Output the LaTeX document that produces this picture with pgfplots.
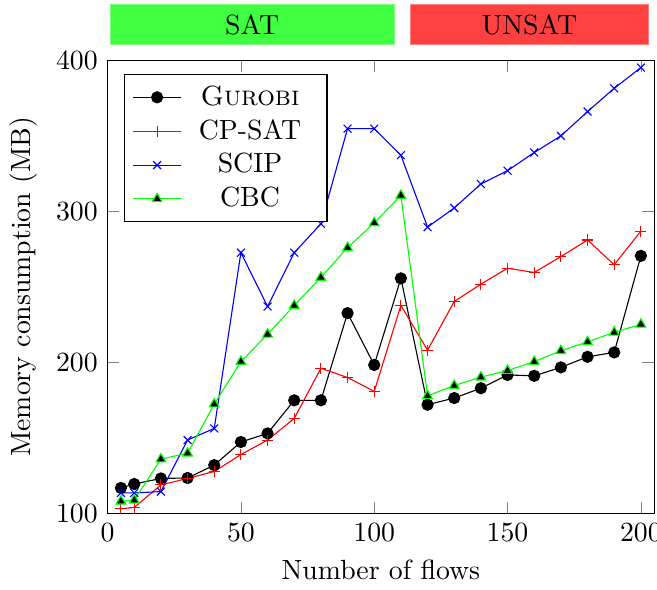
\documentclass[border=0pt]{standalone}
\usepackage{pgfplots}
\pgfplotsset{compat=1.18}
\usetikzlibrary{calc}
\begin{document}
\begin{tikzpicture}
\begin{axis}[
  scale only axis,
  width=196.8pt, height=163.2pt,
  xmin=0, xmax=205, ymin=100, ymax=400,
  xtick={0,50,100,150,200},
  ytick={100,200,300,400},
  xlabel={Number of flows},
  ylabel={Memory consumption (MB)},
  legend pos=north west,
  legend cell align=center,
  legend style={row sep=-0.4pt, nodes={inner xsep=6.3pt}},
  clip=false,
]
\addplot[color=black, mark=*, mark options={black}] coordinates {(5,116.9)(10,119.5)(20,123.2)(30,123.5)(40,132)(50,147.3)(60,153)(70,174.9)(80,174.9)(90,232.6)(100,198.3)(110,255.6)(120,172)(130,176.4)(140,182.9)(150,191.7)(160,191.1)(170,196.7)(180,203.7)(190,206.6)(200,270.5)};
\addlegendentry{\textsc{Gurobi}}
\addplot[color=red, mark=+, mark options={red}] coordinates {(5,103.1)(10,104)(20,118.9)(30,123.2)(40,127.8)(50,139)(60,148.6)(70,162.9)(80,196.1)(90,190)(100,180.8)(110,237.7)(120,208.1)(130,240.3)(140,251.8)(150,262.3)(160,259.5)(170,270)(180,281)(190,264.6)(200,286.9)};
\addlegendentry{CP-SAT}
\addplot[color=blue, mark=x, mark options={blue}] coordinates {(5,113.6)(10,113.6)(20,114.5)(30,148.6)(40,156.3)(50,272.6)(60,237)(70,272.6)(80,291.7)(90,354.7)(100,354.7)(110,337.1)(120,289.5)(130,302.2)(140,318.1)(150,326.9)(160,338.9)(170,349.9)(180,366)(190,381.4)(200,395.1)};
\addlegendentry{SCIP}
\addplot[color=green, mark=triangle*, mark options={draw=green, fill=black}] coordinates {(5,108.1)(10,108.8)(20,136)(30,139.9)(40,172.4)(50,200.5)(60,218.6)(70,237.7)(80,256.2)(90,275.9)(100,292.3)(110,310.5)(120,177.9)(130,184.7)(140,190.2)(150,194.6)(160,200.5)(170,207.7)(180,213.6)(190,219.9)(200,225.2)};
\addlegendentry{CBC}
\fill[green!75!white, draw=green!50!white, line width=0.3pt] (axis cs:1,410.4) rectangle (axis cs:107.5,436.9);
\node at (axis cs:54.25,423.65) {SAT};
\fill[red!75!white, draw=red!50!white, line width=0.3pt] (axis cs:113.4,410.4) rectangle (axis cs:203,436.9);
\node at (axis cs:158.2,423.65) {UNSAT};
\coordinate (tl) at (axis cs:1,436.9);
\end{axis}
\pgfresetboundingbox
\path (current axis.outer south west) rectangle ($(current axis.north east |- tl) + (1pt,1.6pt)$);
\end{tikzpicture}
\end{document}
